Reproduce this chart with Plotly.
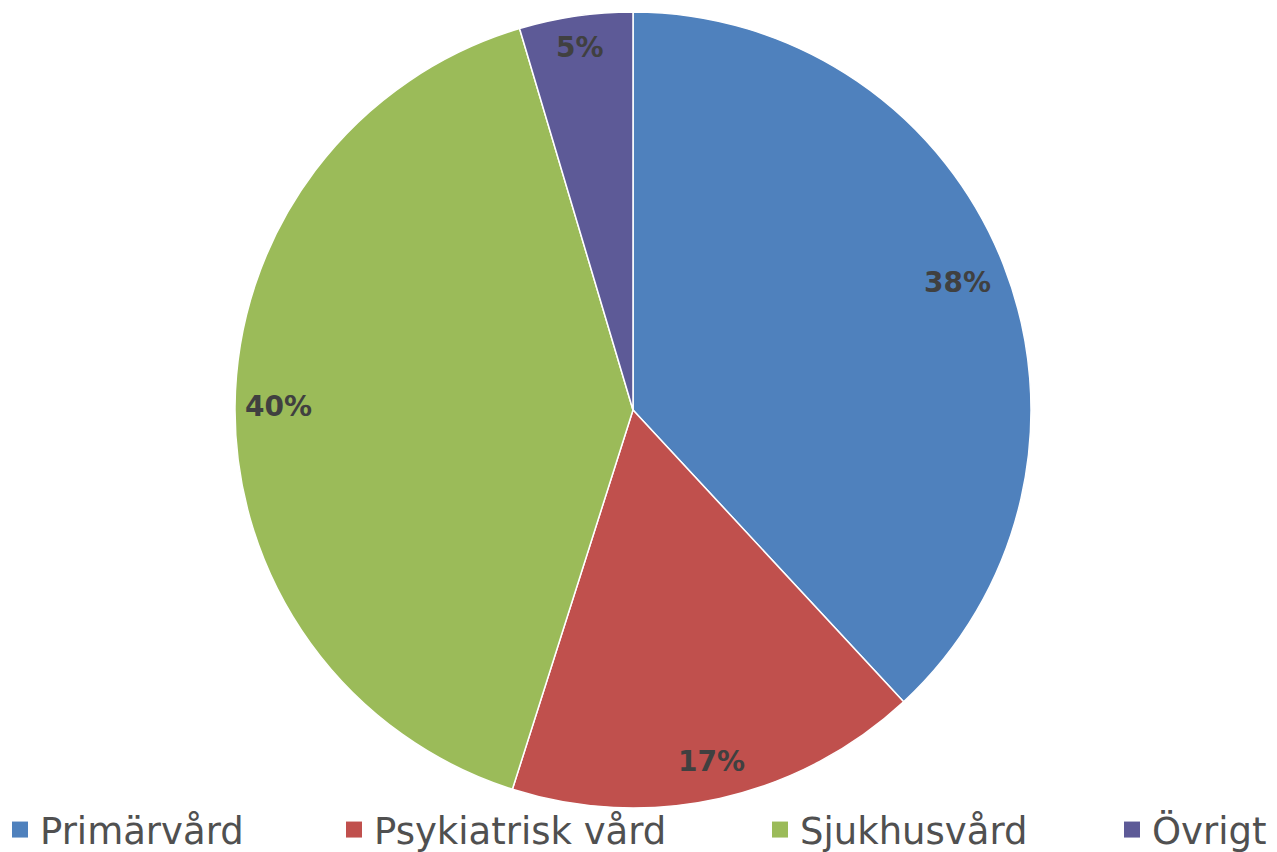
import math
import plotly.graph_objects as go

categories = ["Primärvård", "Psykiatrisk vård", "Sjukhusvård", "Övrigt"]
values = [38.1, 16.8, 40.5, 4.6]
labels_text = ["38%", "17%", "40%", "5%"]
colors = ["#4F81BD", "#C0504D", "#9BBB59", "#5D5A97"]

W, H = 1277, 852
cx_px, cy_px, R_px = 633, 410, 398

fig = go.Figure()
fig.add_trace(go.Pie(
    labels=categories,
    values=values,
    sort=False,
    direction="clockwise",
    rotation=0,
    marker=dict(colors=colors, line=dict(color="white", width=1.5)),
    textinfo="none",
    hoverinfo="label+percent",
    showlegend=False,
    domain=dict(x=[(cx_px - R_px) / W, (cx_px + R_px) / W],
                y=[(H - cy_px - R_px) / H, (H - cy_px + R_px) / H]),
))

# data labels near the outer edge of each slice ("inside end")
total = sum(values)
cum = 0.0
rfrac = [0.875, 0.905, 0.89, 0.92]
for v, t, rf in zip(values, labels_text, rfrac):
    mid = (cum + v / 2) / total * 2 * math.pi
    cum += v
    px = cx_px + rf * R_px * math.sin(mid)
    py = cy_px - rf * R_px * math.cos(mid)
    fig.add_annotation(x=px / W, y=1 - py / H, xref="paper", yref="paper",
                       xanchor="center", yanchor="middle",
                       text="<b>%s</b>" % t, showarrow=False,
                       font=dict(family="DejaVu Sans", size=28, color="#404040"))

# legend: one legend per category so entries sit where the reference has them
legend_x_px = [0, 334, 760, 1112]
legend_names = ["legend", "legend2", "legend3", "legend4"]
layout_legends = {}
for name, col, lg, lx in zip(categories, colors, legend_names, legend_x_px):
    fig.add_trace(go.Scatter(
        x=[None], y=[None], mode="markers", name=name,
        marker=dict(symbol="square", size=16, color=col),
        legend=lg, showlegend=True, hoverinfo="skip",
    ))
    layout_legends[lg] = dict(
        orientation="h", x=lx / W, xanchor="left",
        y=1 - 830 / H, yanchor="middle",
        font=dict(family="DejaVu Sans", size=37, color="#505050"),
        bgcolor="rgba(0,0,0,0)", borderwidth=0,
    )

fig.update_layout(
    width=W, height=H,
    margin=dict(l=0, r=0, t=0, b=0, autoexpand=False),
    paper_bgcolor="white",
    plot_bgcolor="white",
    showlegend=True,
    xaxis=dict(visible=False),
    yaxis=dict(visible=False),
    **layout_legends,
)

fig.write_html("out.html")
